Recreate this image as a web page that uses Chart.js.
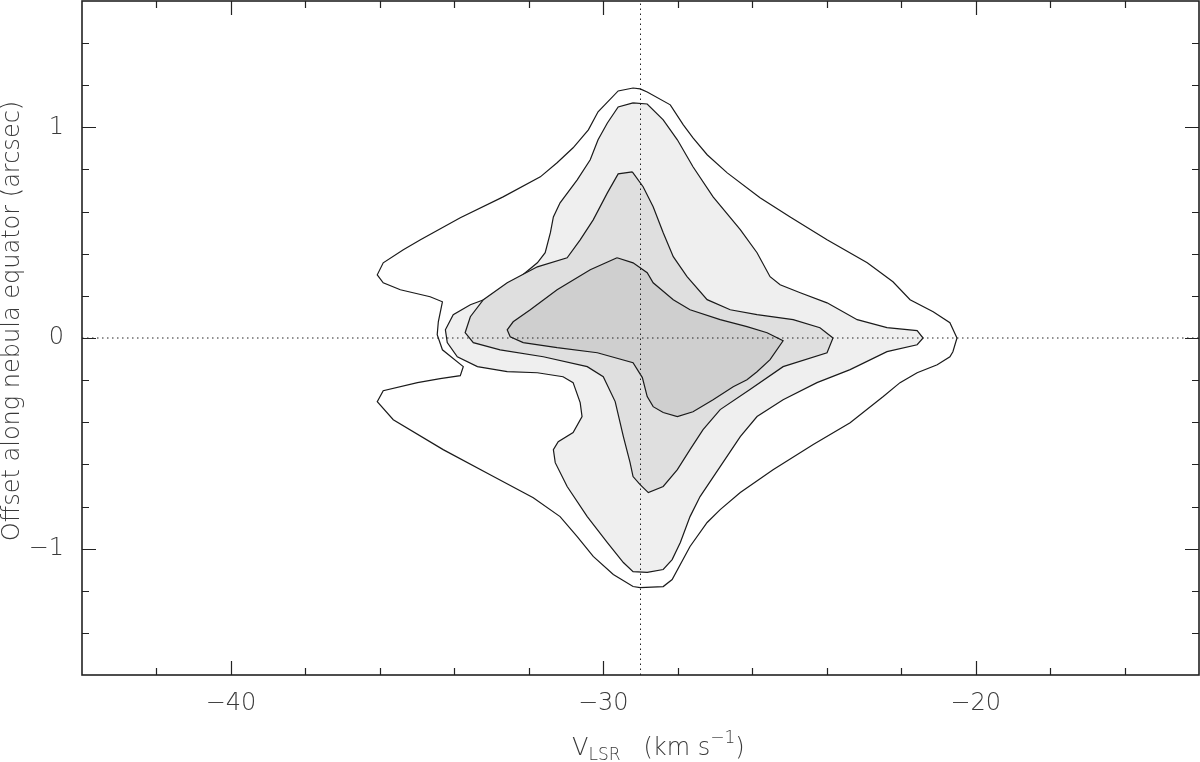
<!DOCTYPE html>
<html>
<head>
<meta charset="utf-8">
<script src="https://cdn.jsdelivr.net/npm/chart.js@4.4.1/dist/chart.umd.min.js"></script>
<style>
  body { margin: 0; background: #fff; overflow: hidden; }
  canvas { display: block; }
</style>
</head>
<body>
<canvas id="pvChart" width="1200" height="762"></canvas>
<script>
// axis ranges
const velocityRange = [-44, -14];
const offsetRange = [-1.6, 1.6];

// reference lines (dotted)
const systemicVelocity = -29;
const equatorOffset = 0;

// contours, outermost first. pairs of [V_LSR km/s, offset arcsec]
const contourLevel1 = [
  [-29.01, 1.183], [-28.82, 1.168], [-28.20, 1.107], [-27.85, 1.012], [-27.59, 0.950],
  [-27.21, 0.870], [-26.67, 0.784], [-25.79, 0.666], [-24.98, 0.575], [-23.99, 0.466],
  [-22.91, 0.357], [-22.22, 0.267], [-21.76, 0.182], [-21.14, 0.125], [-20.69, 0.073],
  [-20.50, 0.000], [-20.61, -0.065], [-20.69, -0.089], [-21.03, -0.127], [-21.57, -0.165],
  [-22.03, -0.212], [-22.48, -0.278], [-23.37, -0.402], [-24.36, -0.506], [-25.44, -0.625],
  [-26.32, -0.734], [-26.86, -0.815], [-27.21, -0.876], [-27.67, -0.990], [-28.15, -1.147],
  [-28.39, -1.180], [-29.01, -1.185], [-29.20, -1.180], [-29.73, -1.123], [-30.27, -1.037],
  [-30.70, -0.943], [-31.16, -0.848], [-31.88, -0.758], [-32.95, -0.658], [-34.30, -0.530],
  [-35.64, -0.388], [-36.07, -0.302], [-35.91, -0.250], [-34.99, -0.212], [-34.38, -0.193],
  [-33.84, -0.179], [-33.76, -0.136], [-34.32, -0.056], [-34.46, 0.016], [-34.43, 0.077],
  [-34.32, 0.172], [-34.65, 0.196], [-35.45, 0.229], [-35.91, 0.262], [-36.07, 0.300],
  [-35.91, 0.357], [-35.37, 0.419], [-34.91, 0.466], [-33.84, 0.571], [-32.69, 0.670],
  [-31.69, 0.765], [-31.24, 0.832], [-30.81, 0.903], [-30.40, 0.988], [-30.14, 1.074],
  [-29.60, 1.173], [-29.20, 1.187]
];

const contourLevel2 = [
  [-29.20, 1.116], [-28.82, 1.111], [-28.39, 1.036], [-28.01, 0.941], [-27.59, 0.813],
  [-27.05, 0.670], [-26.32, 0.514], [-25.87, 0.405], [-25.52, 0.291], [-25.25, 0.253],
  [-24.71, 0.215], [-23.99, 0.167], [-23.18, 0.087], [-22.38, 0.049], [-21.57, 0.035],
  [-21.41, 0.000], [-21.57, -0.032], [-22.38, -0.065], [-23.37, -0.150], [-24.26, -0.212],
  [-25.17, -0.293], [-25.87, -0.373], [-26.32, -0.468], [-26.86, -0.611], [-27.40, -0.753],
  [-27.67, -0.848], [-27.93, -0.971], [-28.15, -1.052], [-28.39, -1.099], [-28.82, -1.113],
  [-29.20, -1.109], [-29.46, -1.066], [-29.89, -0.971], [-30.43, -0.848], [-30.97, -0.705],
  [-31.29, -0.592], [-31.34, -0.530], [-31.21, -0.492], [-30.81, -0.449], [-30.57, -0.373],
  [-30.62, -0.307], [-30.81, -0.212], [-31.08, -0.184], [-31.77, -0.165], [-32.58, -0.160],
  [-33.38, -0.136], [-33.92, -0.089], [-34.19, -0.022], [-34.24, 0.039], [-34.03, 0.111],
  [-33.57, 0.158], [-32.85, 0.205], [-32.42, 0.262], [-31.77, 0.357], [-31.56, 0.405],
  [-31.42, 0.500], [-31.34, 0.575], [-31.16, 0.642], [-30.70, 0.751], [-30.35, 0.846],
  [-30.14, 0.941], [-29.89, 1.021], [-29.60, 1.097]
];

const contourLevel3 = [
  [-29.22, 0.789], [-28.93, 0.718], [-28.66, 0.623], [-28.39, 0.500], [-28.12, 0.386],
  [-27.75, 0.291], [-27.21, 0.182], [-26.59, 0.134], [-25.87, 0.111], [-24.90, 0.087],
  [-24.18, 0.049], [-23.83, 0.000], [-23.99, -0.070], [-25.17, -0.136], [-26.06, -0.245],
  [-26.86, -0.340], [-27.32, -0.435], [-27.67, -0.530], [-28.01, -0.625], [-28.39, -0.705],
  [-28.79, -0.734], [-29.01, -0.696], [-29.20, -0.658], [-29.28, -0.592], [-29.46, -0.468],
  [-29.68, -0.302], [-30.00, -0.184], [-30.43, -0.136], [-31.61, -0.089], [-32.77, -0.056],
  [-33.49, -0.022], [-33.71, 0.025], [-33.57, 0.101], [-33.22, 0.182], [-32.58, 0.262],
  [-31.77, 0.338], [-30.97, 0.381], [-30.62, 0.466], [-30.27, 0.561], [-29.89, 0.689],
  [-29.60, 0.779]
];

const contourLevel4 = [
  [-29.63, 0.381], [-29.20, 0.357], [-28.82, 0.310], [-28.66, 0.262], [-28.12, 0.182],
  [-27.67, 0.134], [-26.86, 0.087], [-26.14, 0.054], [-25.60, 0.025], [-25.17, -0.013],
  [-25.52, -0.103], [-25.87, -0.160], [-26.14, -0.198], [-26.51, -0.231], [-27.05, -0.293],
  [-27.59, -0.350], [-28.01, -0.373], [-28.39, -0.354], [-28.66, -0.326], [-28.82, -0.278],
  [-28.95, -0.188], [-29.20, -0.117], [-30.16, -0.070], [-31.24, -0.046], [-32.15, -0.022],
  [-32.50, 0.006], [-32.58, 0.039], [-32.42, 0.077], [-31.96, 0.134], [-31.24, 0.229],
  [-30.35, 0.324]
];

const contours = [contourLevel1, contourLevel2, contourLevel3, contourLevel4];
const levelFills = ['#ffffff', '#efefef', '#dfdfdf', '#cfcfcf'];

const labelFont = { family: "'DejaVu Sans', sans-serif", size: 24, weight: '200' };
const textColor = '#3a3a3a';

const isWhole = v => Math.abs(v - Math.round(v)) < 1e-6;
const fmt = v => (v < 0 ? '\u2212' : '') + Math.abs(Math.round(v));

// close each polygon and hand it to the line controller
const contourSets = contours.map((c, i) => ({
  data: c.concat([c[0]]).map(([x, y]) => ({ x, y })),
  borderColor: '#1a1a1a',
  borderWidth: 1.2,
  backgroundColor: levelFills[i],
  fill: 'shape',
  order: contours.length - i + 1
}));

const dottedSets = [
  { data: [{ x: systemicVelocity, y: offsetRange[0] }, { x: systemicVelocity, y: offsetRange[1] }] },
  { data: [{ x: velocityRange[0], y: equatorOffset }, { x: velocityRange[1], y: equatorOffset }] }
].map(d => Object.assign(d, {
  borderColor: '#222',
  borderWidth: 1,
  borderDash: [1.5, 3.5],
  fill: false,
  order: 0
}));

// inward tick marks on all four sides plus the frame
const frameTicks = {
  id: 'frameTicks',
  afterDatasetsDraw(chart) {
    const { ctx, chartArea: a, scales: { x, y } } = chart;
    ctx.save();
    ctx.strokeStyle = '#222';
    ctx.lineWidth = 1.2;
    ctx.beginPath();
    x.ticks.forEach(t => {
      if (t.value <= x.min || t.value >= x.max) return;
      const px = Math.round(x.getPixelForValue(t.value)) + 0.5;
      const len = isWhole(t.value / 10) ? 14 : 7;
      ctx.moveTo(px, a.bottom); ctx.lineTo(px, a.bottom - len);
      ctx.moveTo(px, a.top); ctx.lineTo(px, a.top + len);
    });
    y.ticks.forEach(t => {
      if (t.value <= y.min + 1e-6 || t.value >= y.max - 1e-6) return;
      const py = Math.round(y.getPixelForValue(t.value)) + 0.5;
      const len = isWhole(t.value) ? 14 : 7;
      ctx.moveTo(a.left, py); ctx.lineTo(a.left + len, py);
      ctx.moveTo(a.right, py); ctx.lineTo(a.right - len, py);
    });
    ctx.stroke();
    ctx.lineWidth = 1.6;
    ctx.strokeRect(a.left, a.top, a.width, a.height);
    ctx.restore();
  }
};

// axis titles (sub/superscripts need manual drawing)
const axisTitles = {
  id: 'axisTitles',
  afterDraw(chart) {
    const { ctx } = chart;
    const big = "200 24px 'DejaVu Sans', sans-serif";
    const small = "200 17px 'DejaVu Sans', sans-serif";
    ctx.save();
    ctx.fillStyle = textColor;
    ctx.textBaseline = 'alphabetic';
    ctx.textAlign = 'left';

    const base = 755;
    const parts = [
      ['V', big, 0],
      ['LSR', small, 5],
      ['   (km s', big, 0],
      ['\u22121', small, -12],
      [')', big, 0]
    ];
    let cx = 572;
    parts.forEach(([txt, font, dy]) => {
      ctx.font = font;
      ctx.fillText(txt, cx, base + dy);
      cx += ctx.measureText(txt).width;
    });

    ctx.font = big;
    ctx.textAlign = 'center';
    ctx.textBaseline = 'middle';
    ctx.translate(13, 321);
    ctx.rotate(-Math.PI / 2);
    ctx.fillText('Offset along nebula equator (arcsec)', 0, 0);
    ctx.restore();
  }
};

new Chart(document.getElementById('pvChart'), {
  type: 'line',
  data: { datasets: contourSets.concat(dottedSets) },
  options: {
    responsive: false,
    animation: false,
    devicePixelRatio: 1,
    layout: { padding: { top: 1, right: 1, left: 0, bottom: 0 } },
    elements: { point: { radius: 0 }, line: { tension: 0 } },
    plugins: {
      legend: { display: false },
      tooltip: { enabled: false }
    },
    scales: {
      x: {
        type: 'linear',
        min: velocityRange[0],
        max: velocityRange[1],
        grid: { display: false, drawTicks: false },
        border: { display: false },
        ticks: {
          stepSize: 2,
          autoSkip: false,
          maxRotation: 0,
          padding: 14,
          font: labelFont,
          color: textColor,
          callback: v => isWhole(v / 10) ? fmt(v) : ''
        },
        afterFit: s => {
          s.height = 87;
          s.paddingLeft = 0;
          s.paddingRight = 0;
        }
      },
      y: {
        type: 'linear',
        min: offsetRange[0],
        max: offsetRange[1],
        grid: { display: false, drawTicks: false },
        border: { display: false },
        ticks: {
          stepSize: 0.2,
          autoSkip: false,
          padding: 18,
          font: labelFont,
          color: textColor,
          callback: v => isWhole(v) ? fmt(v) : ''
        },
        afterFit: s => {
          s.width = 82;
          s.paddingTop = 0;
          s.paddingBottom = 0;
        }
      }
    }
  },
  plugins: [frameTicks, axisTitles]
});
</script>
</body>
</html>
